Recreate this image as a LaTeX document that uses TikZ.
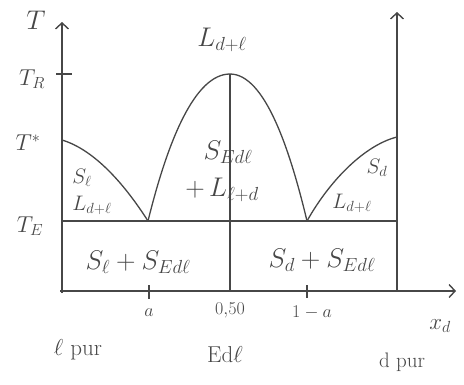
\RequirePackage{fix-cm}
\documentclass[tikz,border=0pt]{standalone}
\usepackage{fontspec}
\usepackage{amsmath}
\usetikzlibrary{arrows.meta, positioning}
\definecolor{pencil}{gray}{0.28}

\begin{document}
\begin{tikzpicture}[x=1pt, y=-1pt,
    every node/.style={text=pencil, inner sep=1pt},
    axis/.style={line width=1.4pt, draw=pencil, -{Straight Barb[length=6pt, width=13pt]}},
    line/.style={line width=1.3pt, draw=pencil},
    tick/.style={line width=1.3pt, draw=pencil},
    big/.style={font=\fontsize{27}{30}\selectfont},
    mid/.style={font=\fontsize{23}{26}\selectfont},
    region/.style={font=\fontsize{21}{24}\selectfont},
    small/.style={font=\fontsize{18}{20}\selectfont}
]
\useasboundingbox (0,0) rectangle (464,384);

% ============ AXES ============
\coordinate (O) at (62,293);
\coordinate (Ttop) at (62,22);
\coordinate (Rbot) at (397,291);
\coordinate (Rtop) at (397,12);
\coordinate (Xstart) at (60,291);
\coordinate (Xend) at (456,291);

\draw[axis] (O) -- (Ttop);
\draw[axis] (Rbot) -- (Rtop);
\draw[axis] (Xstart) -- (Xend);

% ============ KEY POINTS ============
\coordinate (Tstar) at (62,140);
\coordinate (Ea) at (148,221);
\coordinate (Eb) at (307,221);
\coordinate (TEl) at (62,221);
\coordinate (TEr) at (397,221);
\coordinate (peak) at (230,74);
\coordinate (mid) at (230,291);
\coordinate (Rend) at (397,137);

% eutectic line and compound line
\draw[line] (TEl) -- (TEr);
\draw[line] (peak) -- (mid);

% liquidus curves
\draw[line] (Tstar) .. controls (95,150) and (125,185) .. (Ea);
\draw[line] (Ea) .. controls (168,140) and (195,74) .. (peak)
            .. controls (265,74) and (290,150) .. (Eb);
\draw[line] (Eb) .. controls (330,180) and (365,145) .. (Rend);

% ticks
\draw[tick] (56,74) -- (72,74);
\draw[tick] (149,285) -- (149,299);
\draw[tick] (307,285) -- (307,298);

% ============ AXIS LABELS ============
\node[big] (lT) at (36,20) {$T$};
\node[mid] (lTR) at (32,79) {$T_R$};
\node[mid] (lTs) at (28,143) {$T^*$};
\node[mid] (lTE) at (30,226) {$T_E$};

\node[small] (la) at (149,313) {$a$};
\node[small] (l050) at (230,310) {$0{,}50$};
\node[small] (l1a) at (312,312) {$1-a$};
\node[mid] (lxd) at (440,326) {$x_d$};

\node[mid] (lpur) at (78,350) {$\ell$ pur};
\node[mid] (lEdl) at (225,355) {Ed$\ell$};
\node[region] (dpur) at (402,362) {d pur};

% ============ REGION LABELS ============
\node[big] (liq) at (222,40) {$L_{d+\ell}$};
\node[region] (lSl) at (82,178) {$S_\ell$};
\node[region] (lLl) at (92,205) {$L_{d+\ell}$};
\node[big] (lSE) at (228,152) {$S_{Ed\ell}$};
\node[big] (lLE) at (222,190) {$+\,L_{\ell+d}$};
\node[region] (lSd) at (377,168) {$S_d$};
\node[region] (lLr) at (352,203) {$L_{d+\ell}$};
\node[big] (lbl) at (138,262) {$S_\ell+S_{Ed\ell}$};
\node[big] (lbr) at (322,260) {$S_d+S_{Ed\ell}$};

\end{tikzpicture}
\end{document}
